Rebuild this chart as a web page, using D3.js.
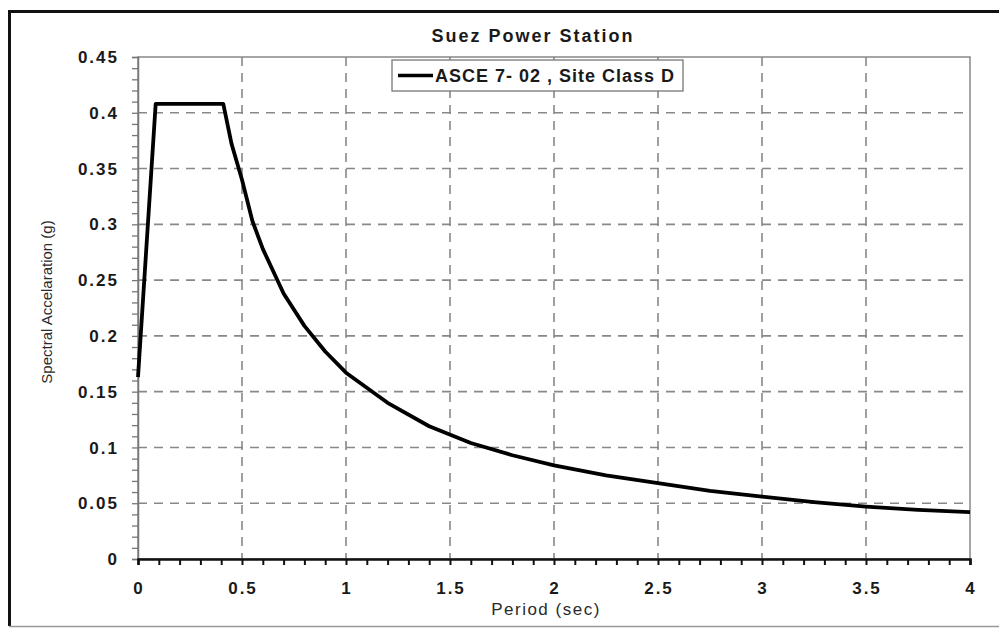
<!DOCTYPE html>
<html><head><meta charset="utf-8">
<script src="https://cdn.jsdelivr.net/npm/d3@7"></script>
<style>body{margin:0;background:#fff}svg{display:block}</style>
</head><body>
<svg id="c" width="999" height="628"></svg>
<script>
const periods = [0, 0.085, 0.41, 0.45, 0.5, 0.55, 0.6, 0.7, 0.8, 0.9, 1.0, 1.2, 1.4, 1.6, 1.8, 2.0, 2.25, 2.5, 2.75, 3.0, 3.25, 3.5, 3.75, 4.0];
const accel   = [0.163, 0.408, 0.408, 0.372, 0.340, 0.303, 0.278, 0.238, 0.209, 0.186, 0.167, 0.140, 0.119, 0.104, 0.093, 0.084, 0.075, 0.068, 0.061, 0.056, 0.051, 0.047, 0.044, 0.042];
const xTicks = [0, 0.5, 1, 1.5, 2, 2.5, 3, 3.5, 4];
const yTicks = [0, 0.05, 0.1, 0.15, 0.2, 0.25, 0.3, 0.35, 0.4, 0.45];
const title = "Suez Power Station";
const seriesName = "ASCE 7- 02 , Site Class D";
const xLabel = "Period (sec)";
const yLabel = "Spectral Accelaration (g)";

const svg = d3.select("#c");
const L = 138, R = 970, T = 57, B = 559;
const x = d3.scaleLinear().domain([0, 4]).range([L, R]);
const y = d3.scaleLinear().domain([0, 0.45]).range([B, T]);
const font = "'Liberation Sans', Arial, sans-serif";

// outer frame (cut at right)
svg.append("path").attr("d", `M1010,11.5 H9.5 V626`).attr("fill","none").attr("stroke","#111").attr("stroke-width",3);
svg.append("line").attr("x1",9).attr("x2",999).attr("y1",626.5).attr("y2",626.5).attr("stroke","#999").attr("stroke-width",1.5);

// grid
const g = svg.append("g");
g.selectAll(".vg").data(xTicks.slice(1, -1)).join("line")
  .attr("x1", d => x(d)).attr("x2", d => x(d)).attr("y1", T).attr("y2", B)
  .attr("stroke", "#888").attr("stroke-width", 1.6).attr("stroke-dasharray", "9,7");
g.selectAll(".hg").data(yTicks.slice(1, -1)).join("line")
  .attr("x1", L).attr("x2", R).attr("y1", d => y(d)).attr("y2", d => y(d))
  .attr("stroke", "#888").attr("stroke-width", 1.6).attr("stroke-dasharray", "9,7");

// plot border
svg.append("rect").attr("x", L).attr("y", T).attr("width", R - L).attr("height", B - T)
  .attr("fill", "none").attr("stroke", "#888").attr("stroke-width", 1.5);

// y axis
const yAxis = svg.append("g").attr("transform", `translate(${L},0)`)
  .call(d3.axisLeft(y).tickValues(d3.range(0, 0.4501, 0.01)).tickSize(6).tickFormat(""));
yAxis.select(".domain").attr("stroke", "#777").attr("stroke-width", 1.5);
yAxis.selectAll(".tick line").attr("stroke", "#777").attr("stroke-width", 1.3);
svg.append("g").selectAll("text").data(yTicks).join("text")
  .attr("x", 119).attr("y", d => y(d)).attr("dy", "0.36em").attr("text-anchor", "end")
  .attr("font-family", font).attr("font-weight", "bold").attr("font-size", 17).attr("fill", "#1a1a1a")
  .attr("letter-spacing", 2)
  .text(d => d3.format("")(+d.toFixed(2)));

// x axis
const xAxis = svg.append("g").attr("transform", `translate(0,${B})`)
  .call(d3.axisBottom(x).tickValues(d3.range(0, 4.001, 0.1)).tickSize(6).tickFormat(""));
xAxis.select(".domain").attr("stroke", "#111").attr("stroke-width", 2.5);
xAxis.selectAll(".tick line").attr("stroke", "#111").attr("stroke-width", 2);
svg.append("g").selectAll("text").data(xTicks).join("text")
  .attr("x", d => x(d) + 1).attr("y", 594).attr("text-anchor", "middle")
  .attr("font-family", font).attr("font-weight", "bold").attr("font-size", 17).attr("fill", "#1a1a1a")
  .attr("letter-spacing", 2)
  .text(d => d);

// curve
const pts = periods.map((p, i) => [p, accel[i]]);
const lineGen = d3.line().x(d => x(d[0])).y(d => y(d[1])).curve(d3.curveLinear);
svg.append("path").datum(pts).attr("d", lineGen)
  .attr("fill", "none").attr("stroke", "#000").attr("stroke-width", 3.8).attr("stroke-linejoin", "round");

// title
svg.append("text").attr("x", 533).attr("y", 42).attr("text-anchor", "middle")
  .attr("font-family", font).attr("font-weight", "bold").attr("font-size", 18).attr("fill", "#1a1a1a")
  .attr("letter-spacing", 2).text(title);

// legend
svg.append("rect").attr("x", 392).attr("y", 60).attr("width", 291).attr("height", 31)
  .attr("fill", "#fff").attr("stroke", "#777").attr("stroke-width", 1.3);
svg.append("line").attr("x1", 398).attr("x2", 433).attr("y1", 75.5).attr("y2", 75.5)
  .attr("stroke", "#000").attr("stroke-width", 3.5);
svg.append("text").attr("x", 435).attr("y", 82)
  .attr("font-family", font).attr("font-weight", "bold").attr("font-size", 18).attr("fill", "#1a1a1a")
  .attr("letter-spacing", 1).text(seriesName);

// axis labels
svg.append("text").attr("x", 546).attr("y", 615).attr("text-anchor", "middle")
  .attr("font-family", font).attr("font-size", 17).attr("fill", "#2a2a2a")
  .attr("letter-spacing", 1.5).text(xLabel);
svg.append("text").attr("transform", "translate(52,302) rotate(-90)").attr("text-anchor", "middle")
  .attr("font-family", font).attr("font-size", 15).attr("fill", "#2a2a2a").text(yLabel);
</script>
</body></html>
